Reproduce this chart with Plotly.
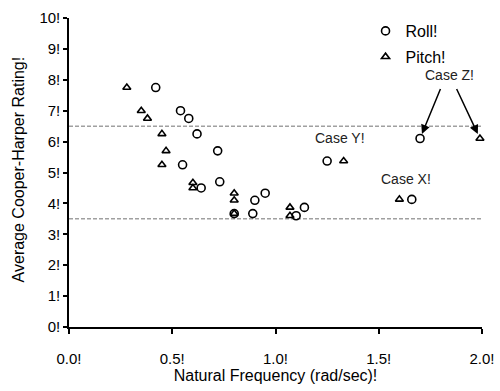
import plotly.graph_objects as go

# ---- data ----
roll_x = [0.42, 0.54, 0.58, 0.62, 0.72, 0.55, 0.64, 0.73, 0.80, 0.89, 0.90, 0.95, 1.10, 1.14, 1.25, 1.66, 1.70]
roll_y = [7.75, 7.00, 6.75, 6.25, 5.70, 5.25, 4.50, 4.70, 3.67, 3.67, 4.10, 4.33, 3.60, 3.87, 5.37, 4.13, 6.10]
pitch_x = [0.28, 0.35, 0.38, 0.45, 0.47, 0.45, 0.60, 0.60, 0.80, 0.80, 0.80, 1.07, 1.07, 1.33, 1.60, 1.99]
pitch_y = [7.75, 7.00, 6.75, 6.25, 5.70, 5.25, 4.67, 4.50, 4.33, 4.10, 3.67, 3.87, 3.60, 5.37, 4.13, 6.10]

x_ticks = [0.0, 0.5, 1.0, 1.5, 2.0]
x_ticktext = ["0.0!", "0.5!", "1.0!", "1.5!", "2.0!"]
y_ticks = list(range(0, 11))
y_ticktext = [f"{v}!" for v in y_ticks]

ref_lines = [6.5, 3.5]
case_labels = ["Case Y!", "Case X!", "Case Z!"]
case_label_x = [1.31, 1.63, 1.845]
case_label_y = [6.13, 4.80, 8.16]
case_z_roll = (roll_x[-1], roll_y[-1])
case_z_pitch = (pitch_x[-1], pitch_y[-1])

FONT = "Arial, 'Liberation Sans', sans-serif"

fig = go.Figure()
fig.add_trace(go.Scatter(
    x=roll_x, y=roll_y, mode="markers", name="Roll!", legendgroup="r",
    marker=dict(symbol="circle-open", size=8, color="black", line=dict(width=1.6, color="black")),
    cliponaxis=False,
))
fig.add_trace(go.Scatter(
    x=pitch_x, y=pitch_y, mode="markers", name="Pitch!", legendgroup="p",
    marker=dict(symbol="triangle-up-open", size=7, color="black", line=dict(width=1.6, color="black")),
    cliponaxis=False,
))

for yv in ref_lines:
    fig.add_shape(type="line", xref="paper", x0=0, x1=1, yref="y", y0=yv, y1=yv,
                  line=dict(color="#a0a0a0", width=1.5, dash="4px,2px"), layer="below")

for t, xv, yv in zip(case_labels, case_label_x, case_label_y):
    fig.add_annotation(x=xv, y=yv, text=t, showarrow=False,
                       font=dict(family=FONT, size=14, color="#222"))

for (px, py), ax in [(case_z_roll, 21), (case_z_pitch, -24)]:
    fig.add_annotation(x=px, y=py, text="", showarrow=True, ax=ax, ay=-51,
                       arrowhead=2, arrowsize=1.2, arrowwidth=1.5, arrowcolor="black",
                       standoff=5)

# y-axis title placed as a rotated annotation to match reference position
fig.add_annotation(x=-0.1235, y=0.51, xref="paper", yref="paper", xanchor="center", yanchor="middle",
                   text="Average Cooper-Harper Rating!", textangle=-90, showarrow=False,
                   font=dict(family=FONT, size=16, color="black"))

fig.update_layout(
    width=500, height=391,
    margin=dict(l=69, r=18, t=18, b=64, autoexpand=False),
    paper_bgcolor="white", plot_bgcolor="white",
    font=dict(family=FONT, size=15, color="black"),
    showlegend=True,
    legend=dict(x=0.718, xanchor="left", y=1.013, yanchor="top",
                font=dict(size=16), tracegroupgap=2, bgcolor="rgba(0,0,0,0)",
                itemwidth=30),
    xaxis=dict(range=[0, 2], tickvals=x_ticks, ticktext=x_ticktext, automargin=False,
               showgrid=False, zeroline=False, showline=True, linecolor="black", linewidth=1.5,
               ticks="outside", ticklen=5, tickwidth=1.5, tickcolor="black",
               ticklabelstandoff=12,
               title=dict(text="Natural Frequency (rad/sec)!", font=dict(size=16), standoff=0)),
    yaxis=dict(range=[0, 10], tickvals=y_ticks, ticktext=y_ticktext, automargin=False,
               showgrid=False, zeroline=False, showline=True, linecolor="black", linewidth=1.5,
               ticks="outside", ticklen=4, tickwidth=1.5, tickcolor="black"),
)

fig.write_html("out.html")
